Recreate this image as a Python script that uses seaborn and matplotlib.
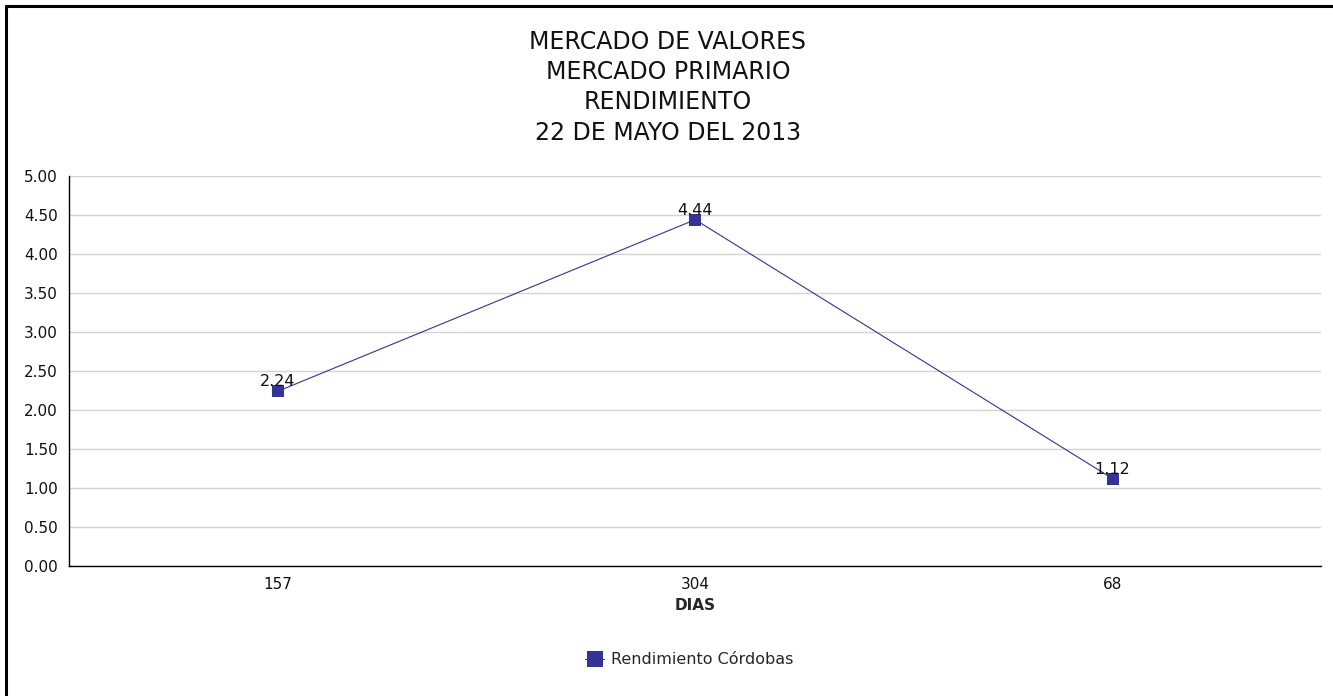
import seaborn as sns
import pandas as pd
import matplotlib.pyplot as plt
from matplotlib.lines import Line2D

dias = ['157', '304', '68']
rendimiento = [2.24, 4.44, 1.12]
serie = 'Rendimiento Córdobas'
y_ticks = [0.0, 0.5, 1.0, 1.5, 2.0, 2.5, 3.0, 3.5, 4.0, 4.5, 5.0]
titulo = 'MERCADO DE VALORES\nMERCADO PRIMARIO\nRENDIMIENTO\n22 DE MAYO DEL 2013'

azul = '#333399'

sns.set_style('white')
plt.rcParams['font.family'] = ['DejaVu Sans']

df = pd.DataFrame({'DIAS': dias, 'Rendimiento': rendimiento})

fig = plt.figure(figsize=(13.33, 6.96), dpi=100)
ax = fig.add_axes([0.0518, 0.1868, 0.9394, 0.5603])

sns.lineplot(data=df, x='DIAS', y='Rendimiento', sort=False, color=azul,
             linewidth=0.8, marker='s', markersize=8, markeredgewidth=0,
             ax=ax, label=serie, legend=False)

for i, v in enumerate(rendimiento):
    ax.annotate(f'{v:.2f}', (i, v), xytext=(0, 1.5), textcoords='offset points',
                ha='center', va='bottom', fontsize=11.5, color='#111111')

ax.set_xlim(-0.5, 2.5)
ax.set_ylim(0, 5)
ax.set_yticks(y_ticks)
ax.set_yticklabels([f'{t:.2f}' for t in y_ticks])
ax.yaxis.grid(True, color='#d4d4d4', linewidth=1)
ax.set_axisbelow(True)
ax.tick_params(axis='both', length=0, labelsize=11, colors='#111111', pad=8)
ax.set_xlabel('DIAS', fontsize=11, fontweight='bold', labelpad=4)
ax.set_ylabel('')
for s in ['top', 'right']:
    ax.spines[s].set_visible(False)
for s in ['left', 'bottom']:
    ax.spines[s].set_color('black')
    ax.spines[s].set_linewidth(1)

fig.text(0.501, 0.957, titulo, ha='center', va='top', fontsize=17,
         linespacing=1.33, color='#111111')

handle = Line2D([], [], color=azul, linewidth=0.8, marker='s', markersize=11,
                markeredgewidth=0)
fig.legend([handle], [serie], loc='center', bbox_to_anchor=(0.517, 0.052),
           frameon=False, fontsize=11.5, handlelength=1.2, handletextpad=0.4)

# marco superior e izquierdo
fig.add_artist(Line2D([0.0045, 1.0], [0.991, 0.991], color='black', linewidth=2.2,
                      transform=fig.transFigure))
fig.add_artist(Line2D([0.0045, 0.0045], [0.0, 0.991], color='black', linewidth=2.2,
                      transform=fig.transFigure))

fig.savefig('out.png', dpi=100)
